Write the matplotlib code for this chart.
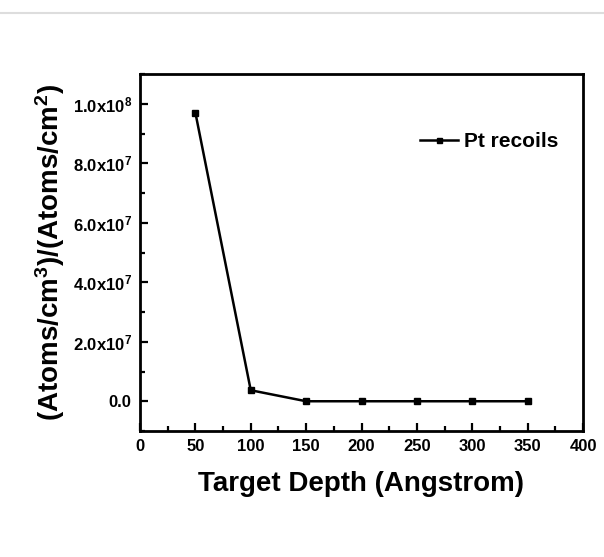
import numpy as np
import matplotlib.pyplot as plt
from matplotlib.ticker import FuncFormatter, MultipleLocator
from matplotlib.lines import Line2D

depth = [50, 100, 150, 200, 250, 300, 350]
recoils = [9.7e7, 3.7e6, 0, 0, 0, 0, 0]

plt.rcParams['font.family'] = ['Liberation Sans', 'DejaVu Sans']
plt.rcParams['font.weight'] = 'bold'
plt.rcParams['mathtext.fontset'] = 'custom'
plt.rcParams['mathtext.rm'] = 'Liberation Sans:bold'
plt.rcParams['mathtext.default'] = 'rm'

fig = plt.figure(figsize=(6.04, 5.57), dpi=100)
ax = fig.add_axes([140/604, 1-431/557, 443/604, 357/557])

ax.plot(depth, recoils, color='black', lw=1.8, marker='s', ms=4.5, label='Pt recoils')

ax.set_xlim(0, 400)
ax.set_ylim(-1e7, 1.1e8)
ax.xaxis.set_major_locator(MultipleLocator(50))
ax.xaxis.set_minor_locator(MultipleLocator(25))
ax.yaxis.set_major_locator(MultipleLocator(2e7))
ax.yaxis.set_minor_locator(MultipleLocator(1e7))

def yfmt(v, pos):
    if abs(v) < 1:
        return '0.0'
    e = int(np.floor(np.log10(abs(v))))
    return r'%.1fx10$^{%d}$' % (v / 10**e, e)

ax.yaxis.set_major_formatter(FuncFormatter(yfmt))
ax.tick_params(which='both', direction='in', width=1.6, labelsize=12)
ax.tick_params(which='major', length=6, pad=6)
ax.tick_params(which='minor', length=3.5)
for s in ax.spines.values():
    s.set_linewidth(2)

ax.set_xlabel('Target Depth (Angstrom)', fontsize=20, fontweight='bold', labelpad=12)
ax.set_ylabel(r'(Atoms/cm$^{3}$)/(Atoms/cm$^{2}$)', fontsize=20, fontweight='bold', labelpad=4)

leg = ax.legend(loc='upper right', bbox_to_anchor=(0.987, 0.89), frameon=False,
                fontsize=15, handlelength=1.8, handletextpad=0.3, markerscale=0.8)

fig.add_artist(Line2D([0, 1], [1-13/557, 1-13/557], color='#dddddd', lw=1.5))

fig.savefig('out.png', dpi=100)
